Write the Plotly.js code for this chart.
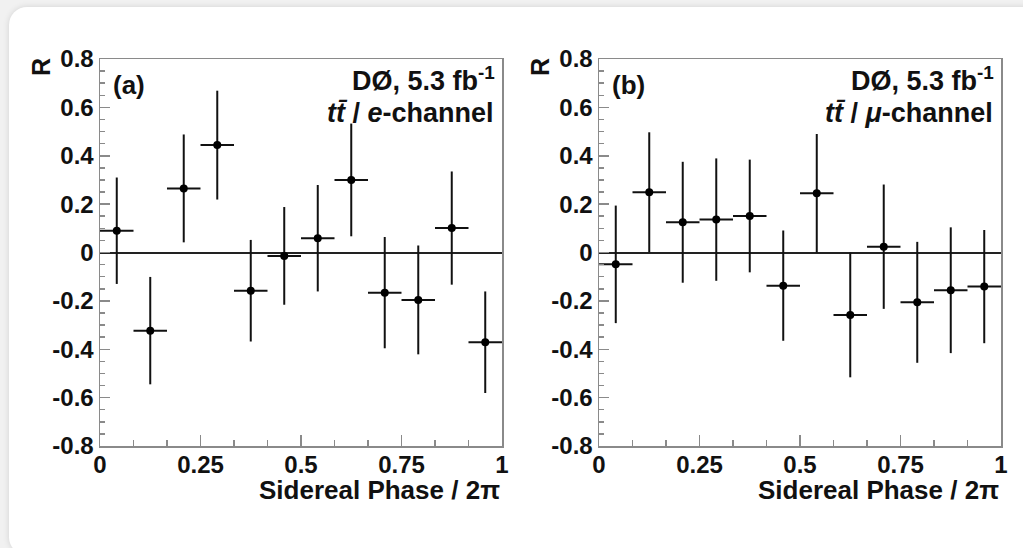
<!DOCTYPE html>
<html>
<head>
<meta charset="utf-8">
<script src="https://cdn.plot.ly/plotly-3.0.1.min.js"></script>
<style>
  html, body { margin: 0; padding: 0; width: 1023px; height: 548px; overflow: hidden; background: #f1f1f1; }
  #card { position: absolute; left: 9px; top: 7px; width: 1035px; height: 548px; background: #ffffff;
          border-radius: 18px; box-shadow: 0 0 6px rgba(0,0,0,0.13); }
  #chart { position: absolute; left: 0; top: 0; width: 1023px; height: 548px; }
</style>
</head>
<body>
<div id="card"></div>
<div id="chart"></div>
<script>
// Sidereal phase bin centres (12 bins over [0,1])
const phase = [0.0417, 0.125, 0.2083, 0.2917, 0.375, 0.4583, 0.5417, 0.625, 0.7083, 0.7917, 0.875, 0.9583];
const binWidth = 1 / 12;

// (a) e-channel
const rElectron = [0.09, -0.323, 0.265, 0.444, -0.158, -0.014, 0.059, 0.300, -0.166, -0.196, 0.101, -0.371];
const errElectron = [0.220, 0.222, 0.223, 0.225, 0.210, 0.202, 0.220, 0.233, 0.230, 0.225, 0.234, 0.210];

// (b) mu-channel
const rMuon = [-0.049, 0.249, 0.125, 0.136, 0.151, -0.137, 0.245, -0.258, 0.024, -0.206, -0.156, -0.141];
const errMuon = [0.243, 0.248, 0.250, 0.253, 0.233, 0.228, 0.245, 0.258, 0.257, 0.250, 0.260, 0.234];

// Tick labels
const xTickVals = [0, 0.25, 0.5, 0.75, 1];
const xTickText = ['0', '0.25', '0.5', '0.75', '1'];
const yTickVals = [-0.8, -0.6, -0.4, -0.2, 0, 0.2, 0.4, 0.6, 0.8];
const yTickText = ['-0.8', '-0.6', '-0.4', '-0.2', '0', '0.2', '0.4', '0.6', '0.8'];

const FONT = 'Liberation Sans, Arial, Helvetica, sans-serif';
const W = 1023, H = 548;
const px = v => v / W;
const PT = 59, PB = 446, PH = PB - PT;   // plot area top/bottom in pixels
const yd = p => (PB - p) / PH;           // pixel row -> y-domain fraction

function trace(y, err, xa, ya) {
  return {
    type: 'scatter', mode: 'markers', x: phase, y: y, xaxis: xa, yaxis: ya,
    marker: { color: '#000', size: 8 },
    error_y: { type: 'data', array: err, visible: true, color: '#111', thickness: 2, width: 0 },
    error_x: { type: 'constant', value: binWidth / 2, visible: true, color: '#111', thickness: 2, width: 0 },
    showlegend: false, hoverinfo: 'x+y'
  };
}

function xAxis(domain, anchor) {
  return {
    domain: domain, anchor: anchor, range: [0, 1], fixedrange: true,
    showline: true, linecolor: '#8a8a8a', linewidth: 1.5, mirror: true,
    showgrid: false, zeroline: false,
    tickmode: 'array', tickvals: xTickVals, ticktext: xTickText,
    ticks: 'inside', ticklen: 11, tickwidth: 1.5, tickcolor: '#8a8a8a',
    ticklabelstandoff: -3,
    tickfont: { family: FONT, size: 24, color: '#111', weight: 'bold' },
    minor: { tickmode: 'linear', tick0: 0, dtick: binWidth, ticks: 'inside', ticklen: 6, tickwidth: 1.5, tickcolor: '#8a8a8a', showgrid: false }
  };
}
function yAxis(domain, anchor) {
  return {
    domain: domain, anchor: anchor, range: [-0.8, 0.8], fixedrange: true,
    showline: true, linecolor: '#8a8a8a', linewidth: 1.5, mirror: true,
    showgrid: false, zeroline: true, zerolinecolor: '#222', zerolinewidth: 2,
    tickmode: 'array', tickvals: yTickVals, ticktext: yTickText,
    ticks: 'inside', ticklen: 10, tickwidth: 1.5, tickcolor: '#8a8a8a',
    tickfont: { family: FONT, size: 24, color: '#111', weight: 'bold' },
    minor: { tickmode: 'linear', tick0: 0, dtick: 0.05, ticks: 'inside', ticklen: 5, tickwidth: 1.5, tickcolor: '#8a8a8a', showgrid: false }
  };
}

const yDom = [1 - PB / H, 1 - PT / H];
const x1Dom = [px(100), px(502)];
const x2Dom = [px(599), px(1001)];

function panelAnnotations(xr, yr, label, channel) {
  const f = (s) => ({ family: FONT, size: s, color: '#111', weight: 'bold' });
  return [
    { xref: xr + ' domain', yref: yr + ' domain', x: 0.027, y: yd(85), xanchor: 'left', yanchor: 'middle',
      text: label, showarrow: false, font: f(26) },
    { xref: xr + ' domain', yref: yr + ' domain', x: 0.988, y: yd(79), xanchor: 'right', yanchor: 'middle',
      text: 'DØ, 5.3 fb<sup>-1</sup>', showarrow: false, font: f(27) },
    { xref: xr + ' domain', yref: yr + ' domain', x: 0.985, y: yd(113), xanchor: 'right', yanchor: 'middle',
      text: channel, showarrow: false, font: f(27) },
    { xref: xr + ' domain', yref: yr + ' domain', x: 1, y: yd(490), xanchor: 'right', yanchor: 'middle',
      text: 'Sidereal Phase / 2π', showarrow: false, font: f(26) },
    { xref: xr + ' domain', yref: yr + ' domain', x: 0, xshift: -59, y: yd(67), xanchor: 'center', yanchor: 'middle',
      textangle: -90, text: 'R', showarrow: false, font: f(25) }
  ];
}

const data = [
  trace(rElectron, errElectron, 'x', 'y'),
  trace(rMuon, errMuon, 'x2', 'y2')
];

const layout = {
  width: W, height: H,
  margin: { l: 0, r: 0, t: 0, b: 0 },
  paper_bgcolor: 'rgba(0,0,0,0)', plot_bgcolor: 'rgba(0,0,0,0)',
  font: { family: FONT, color: '#111' },
  xaxis: xAxis(x1Dom, 'y'), yaxis: yAxis(yDom, 'x'),
  xaxis2: xAxis(x2Dom, 'y2'), yaxis2: yAxis(yDom, 'x2'),
  annotations: [].concat(
    panelAnnotations('x', 'y', '(a)', '<i>tt\u0304</i> / <i>e</i>-channel'),
    panelAnnotations('x2', 'y2', '(b)', '<i>tt\u0304</i> / <i>μ</i>-channel')
  )
};

Plotly.newPlot('chart', data, layout, { staticPlot: true, displayModeBar: false });
</script>
</body>
</html>
